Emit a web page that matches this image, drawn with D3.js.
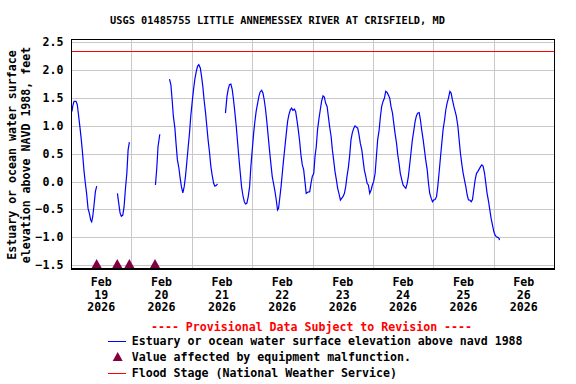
<!DOCTYPE html>
<html>
<head>
<meta charset="utf-8">
<script src="https://cdn.jsdelivr.net/npm/d3@7"></script>
<style>
  body { margin: 0; background: #fff; }
  text { font-family: "DejaVu Sans Mono", monospace; font-weight: bold; }
</style>
</head>
<body>
<svg id="chartSVG" width="576" height="384"></svg>
<script>
// hours after Feb 19 2026 00:00 (null level = gap in record)
var waterHours = [
  0.4, 0.67, 1.2, 2.0, 2.5, 3.06, 3.6, 4.1, 4.65, 5.2, 5.7, 6.2, 6.77, 7.3, 7.83, 8.23, 8.63, 9.16, 9.69, 10.22,
  14,
  18.45, 18.98, 19.5, 20.0, 20.6, 21.1, 21.6, 22.2, 22.7, 23.2,
  28,
  33.57, 34.1, 34.6, 35.3,
  37,
  39.14, 39.7, 40.2, 40.7, 41.3, 41.8, 42.3, 42.9, 43.4, 43.9, 44.45, 45.0, 45.5, 46.0, 46.6, 47.1, 47.6, 48.2, 48.7, 49.2,
  49.8, 50.3, 50.8, 51.4, 51.9, 52.4, 52.9, 53.5, 54.0, 54.5, 55.1, 55.6, 56.1, 56.7, 57.2, 57.7, 58.25,
  60,
  61.4, 62.0, 62.5, 63.0, 63.55, 64.1, 64.6, 65.1, 65.7, 66.2, 66.7, 67.3, 67.8, 68.3, 68.9, 69.4, 69.9, 70.45, 71.0, 71.5,
  72.05, 72.6, 73.1, 73.6, 74.2, 74.7, 75.2, 75.8, 76.3, 76.8, 77.35, 77.9, 78.4, 78.9, 79.5, 80.0, 80.5, 81.1, 81.6, 82.1,
  82.5, 82.9, 83.5, 84.0, 84.5, 85.05, 85.6, 86.1, 86.6, 87.2, 87.7, 88.2, 88.8, 89.3, 89.8, 90.35, 90.9, 91.4, 91.95, 92.5,
  93.0, 93.5, 94.1, 94.9, 95.4, 95.9, 96.5, 97.0, 97.5, 98.0, 98.6, 99.1, 99.6, 100.2, 100.7, 101.2, 101.8, 102.3, 102.8, 103.4,
  103.9, 104.4, 104.95, 105.5, 106.0, 106.5, 107.1, 107.6, 108.1, 108.7, 109.2, 109.7, 110.3, 110.8, 111.3, 111.8, 112.4, 112.9, 113.4, 113.97,
  114.5, 115.0, 115.6, 116.1, 116.6, 117.2, 117.7, 118.2, 118.75, 119.3, 119.8, 120.3, 120.9, 121.4, 121.9, 122.5, 123.0, 123.5, 124.05, 124.6,
  125.1, 125.65, 126.2, 126.7, 127.2, 127.8, 128.3, 128.8, 129.4, 129.9, 130.4, 130.9, 131.5, 132.0, 132.5, 133.1, 133.6, 134.1, 134.7, 135.2,
  135.7, 136.3, 136.8, 137.3, 137.8, 138.4, 138.9, 139.4, 140.0, 140.5, 141.0, 141.6, 142.1, 142.6, 143.2, 143.7, 144.2, 144.75, 145.3, 145.8,
  146.3, 146.9, 147.4, 147.9, 148.5, 149.0, 149.5, 150.05, 150.6, 151.1, 151.6, 152.2, 152.7, 153.2, 153.8, 154.3, 154.8, 155.4, 155.9, 156.4,
  156.95, 157.5, 158.0, 158.5, 159.1, 159.6, 160.1, 160.65, 161.2, 161.7, 162.2, 162.8, 163.3, 163.8, 164.4, 164.9, 165.4, 166.0, 166.5, 167.0,
  167.55, 168.1, 168.6, 169.1, 169.7, 170.2, 170.3
];
var waterLevel = [
  1.26, 1.35, 1.44, 1.44, 1.38, 1.17, 0.96, 0.75, 0.48, 0.18, -0.03, -0.21, -0.48, -0.57, -0.69, -0.72, -0.63, -0.42, -0.18, -0.08,
  null,
  -0.21, -0.39, -0.56, -0.62, -0.60, -0.45, -0.15, 0.15, 0.57, 0.71,
  null,
  -0.06, 0.24, 0.63, 0.85,
  null,
  1.84, 1.74, 1.47, 1.17, 0.96, 0.66, 0.39, 0.24, 0.06, -0.09, -0.20, -0.09, 0.09, 0.33, 0.63, 0.87, 1.17, 1.44, 1.65, 1.83,
  1.98, 2.07, 2.10, 2.04, 1.89, 1.71, 1.47, 1.23, 0.99, 0.75, 0.51, 0.27, 0.12, -0.03, -0.08, -0.07, -0.04,
  null,
  1.23, 1.53, 1.66, 1.74, 1.75, 1.65, 1.47, 1.26, 0.99, 0.72, 0.45, 0.15, -0.09, -0.24, -0.36, -0.40, -0.39, -0.27, -0.09, 0.27,
  0.57, 0.87, 1.08, 1.26, 1.41, 1.53, 1.61, 1.64, 1.59, 1.47, 1.29, 1.05, 0.81, 0.57, 0.30, 0.09, -0.03, -0.18, -0.33, -0.51,
  -0.48, -0.33, -0.09, 0.15, 0.39, 0.63, 0.87, 1.08, 1.20, 1.29, 1.32, 1.28, 1.30, 1.26, 1.11, 0.93, 0.72, 0.48, 0.30, 0.21,
  0.0, -0.21, -0.19, -0.18, -0.03, 0.09, 0.15, 0.45, 0.63, 0.93, 1.14, 1.29, 1.44, 1.54, 1.52, 1.41, 1.35, 1.17, 0.99, 0.81,
  0.57, 0.39, 0.18, 0.03, -0.12, -0.21, -0.33, -0.30, -0.27, -0.21, -0.09, 0.09, 0.27, 0.48, 0.75, 0.87, 0.96, 1.00, 0.98, 0.96,
  0.84, 0.69, 0.57, 0.39, 0.21, 0.09, -0.03, -0.06, -0.21, -0.15, -0.06, 0.0, 0.15, 0.45, 0.75, 0.93, 1.17, 1.35, 1.44, 1.50,
  1.62, 1.60, 1.55, 1.50, 1.35, 1.23, 1.05, 0.87, 0.69, 0.48, 0.33, 0.15, 0.03, -0.06, -0.09, -0.12, -0.04, 0.09, 0.33, 0.54,
  0.75, 0.93, 1.08, 1.18, 1.23, 1.24, 1.11, 0.93, 0.75, 0.57, 0.39, 0.21, -0.03, -0.21, -0.30, -0.36, -0.33, -0.32, -0.27, -0.09,
  0.15, 0.45, 0.69, 0.93, 1.11, 1.29, 1.41, 1.50, 1.62, 1.59, 1.47, 1.35, 1.26, 1.17, 0.99, 0.75, 0.51, 0.30, 0.15, 0.03,
  -0.09, -0.24, -0.33, -0.33, -0.36, -0.32, -0.15, 0.03, 0.15, 0.18, 0.22, 0.27, 0.30, 0.28, 0.15, -0.03, -0.21, -0.36, -0.51, -0.66,
  -0.78, -0.90, -0.96, -0.99, -1.00, -1.02, -1.05
];
// equipment malfunction flags (hours after Feb 19 00:00)
var malfunctionHours = [10.2, 18.4, 23.2, 33.4];
var floodStage = 2.34;
var yTicks = [-1.5, -1.0, -0.5, 0.0, 0.5, 1.0, 1.5, 2.0, 2.5];
var dayLabels = ["19", "20", "21", "22", "23", "24", "25", "26"];
var monthLabel = "Feb";
var yearLabel = "2026";

var start = new Date(2026, 1, 19);
function hoursToDate(h) { return new Date(start.getTime() + h * 3600e3); }
// snap a 1px line onto a pixel row/column
function px(v) { return Math.round(v) + 0.5; }

drawChart("#chartSVG");

function drawChart(elm) {
  var svg = d3.select(elm);
  var left = 71, right = 554, top = 39, bottom = 268;

  var x = d3.scaleTime()
    .domain([start, new Date(2026, 1, 27)])
    .range([left, right]);
  var y = d3.scaleLinear()
    .domain([-1.55, 2.56])
    .range([bottom, top]);

  // title
  svg.append("text")
    .attr("x", 277.5).attr("y", 24)
    .attr("text-anchor", "middle")
    .style("font-size", "10.3px")
    .text("USGS 01485755 LITTLE ANNEMESSEX RIVER AT CRISFIELD, MD");

  // grid
  var grid = svg.append("g").style("stroke", "#c8c8c8").style("stroke-width", "1px");
  grid.selectAll(".hgrid").data(yTicks).join("line")
    .attr("x1", left).attr("x2", right)
    .attr("y1", d => px(y(d))).attr("y2", d => px(y(d)));
  var days = d3.timeDay.range(d3.timeDay.offset(start, 1), new Date(2026, 1, 27));
  grid.selectAll(".vgrid").data(days).join("line")
    .attr("x1", d => px(x(d))).attr("x2", d => px(x(d)))
    .attr("y1", top).attr("y2", bottom);

  // flood stage
  svg.append("line")
    .attr("x1", left).attr("x2", right)
    .attr("y1", px(y(floodStage))).attr("y2", px(y(floodStage)))
    .style("stroke", "#ff0000").style("stroke-width", "1px");

  // water level line
  var pts = waterHours.map((h, i) => ({ t: hoursToDate(h), v: waterLevel[i] }));
  svg.append("path")
    .datum(pts)
    .style("fill", "none")
    .style("stroke", "#0000ff")
    .style("stroke-width", "1.2px")
    .attr("d", d3.line()
      .defined(d => d.v !== null)
      .x(d => x(d.t))
      .y(d => y(d.v)));

  // malfunction markers
  svg.selectAll(".flag").data(malfunctionHours).join("path")
    .style("fill", "#800040")
    .attr("d", function (h) {
      var cx = x(hoursToDate(h));
      return "M" + (cx - 5) + "," + bottom + "L" + cx + "," + (bottom - 9) + "L" + (cx + 5) + "," + bottom + "Z";
    });

  // frame
  svg.append("rect")
    .attr("x", left + 0.5).attr("y", top + 0.5)
    .attr("width", right - left).attr("height", bottom - top)
    .style("fill", "none").style("stroke", "#000").style("stroke-width", "1px");
  svg.append("line")
    .attr("x1", left).attr("x2", right + 1)
    .attr("y1", bottom + 1.5).attr("y2", bottom + 1.5)
    .style("stroke", "#000").style("stroke-width", "1px");

  // y tick labels
  svg.selectAll(".ylab").data(yTicks).join("text")
    .attr("x", 63.5).attr("y", d => y(d) + 4)
    .attr("text-anchor", "end")
    .style("font-size", "11.6px")
    .text(d => d3.format(".1f")(d));

  // y axis title
  var yt = svg.append("text")
    .attr("transform", "translate(16,155) rotate(-90)")
    .attr("text-anchor", "middle")
    .style("font-size", "11.6px");
  yt.append("tspan").attr("x", 0).attr("y", 0).text("Estuary or ocean water surface");
  yt.append("tspan").attr("x", 0).attr("y", 14).text("elevation above NAVD 1988, feet");

  // x tick labels (at noon of each day)
  var xl = svg.selectAll(".xlab").data(dayLabels).join("text")
    .attr("text-anchor", "middle")
    .style("font-size", "11.6px");
  xl.each(function (d, i) {
    var cx = x(d3.timeHour.offset(d3.timeDay.offset(start, i), 12));
    var t = d3.select(this);
    [monthLabel, d, yearLabel].forEach(function (s, j) {
      t.append("tspan").attr("x", cx).attr("y", 286 + j * 12.7).text(s);
    });
  });

  // provisional note
  svg.append("text")
    .attr("x", 311.5).attr("y", 331)
    .attr("text-anchor", "middle")
    .style("fill", "#ff0000")
    .style("font-size", "11.6px")
    .text("---- Provisional Data Subject to Revision ----");

  // legend
  var leg = svg.append("g");
  leg.append("line").attr("x1", 108).attr("x2", 126).attr("y1", 341.5).attr("y2", 341.5)
    .style("stroke", "#0000ff").style("stroke-width", "1px");
  leg.append("path").style("fill", "#800040")
    .attr("d", "M112.7,361L117.7,352L122.7,361Z");
  leg.append("line").attr("x1", 108).attr("x2", 126).attr("y1", 373.5).attr("y2", 373.5)
    .style("stroke", "#ff0000").style("stroke-width", "1px");
  var legText = ["Estuary or ocean water surface elevation above navd 1988",
    "Value affected by equipment malfunction.",
    "Flood Stage (National Weather Service)"];
  leg.selectAll(".lt").data(legText).join("text")
    .attr("x", 131.7).attr("y", (d, i) => 345 + i * 16)
    .style("font-size", "11.6px")
    .text(d => d);
}
</script>
</body>
</html>
